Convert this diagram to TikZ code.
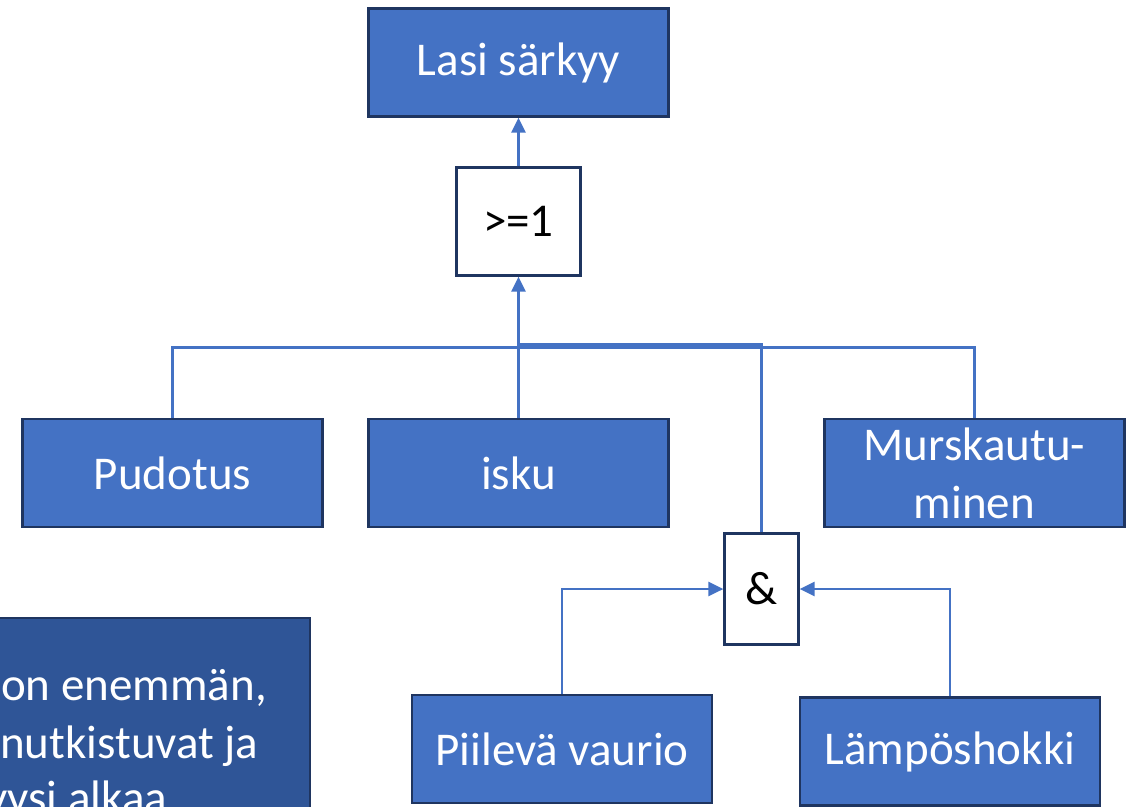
\documentclass[tikz,border=0pt]{standalone}
\usepackage{fontspec}
\setmainfont{Carlito}
\usetikzlibrary{arrows.meta}
\definecolor{boxblue}{HTML}{4472C4}
\definecolor{boxedge}{HTML}{1F3560}
\definecolor{notefill}{HTML}{2F5597}
\definecolor{wire}{HTML}{4472C4}
\begin{document}
\begin{tikzpicture}[x=1pt,y=-1pt,
  txt/.style={font=\fontsize{47}{58}\selectfont},
  event/.style={txt,draw=boxedge,line width=2.2pt,fill=boxblue,text=white,
    minimum width=300pt,minimum height=108pt,inner sep=0pt,align=center},
  gate/.style={txt,draw=boxedge,line width=2.2pt,fill=white,text=black,
    inner sep=0pt},
  wireline/.style={draw=wire,line width=2.6pt},
  feed/.style={wireline,-{Triangle[length=15pt,width=14pt]}},
  note/.style={txt,text=white,anchor=base west,inner sep=0pt}]
\useasboundingbox (0,0) rectangle (1138,806);
\clip (0,0) rectangle (1138,806);

% events
\node[event] (top) at (518.5,62.5) {Lasi särkyy};
\node[gate,minimum width=124pt,minimum height=108pt] (or) at (518.5,221.5) {>=1};
\node[event] (pud) at (172.5,473) {\raisebox{-4pt}{Pudotus}};
\node[event] (isku) at (518.5,473) {\raisebox{-4pt}{isku}};
\node[event] (mur) at (974.5,473) {Murskautu-\\minen};
\node[gate,minimum width=74pt,minimum height=111pt] (and) at (761.5,589) {\&};
\node[event] (pii) at (562,749) {Piilevä vaurio};
\node[event] (lam) at (950,751.5) {Lämpöshokki};

% note box at the lower left
\node[draw=boxedge,line width=2.2pt,fill=notefill,minimum width=330pt,
  minimum height=220pt,inner sep=0pt,anchor=north east] (notebox) at (311,617) {};
\node[note] (tx1) at (1,700) {on enemmän,};
\node[note] (tx2) at (0,758) {nutkistuvat ja};
\node[note] (tx3) at (-14,813) {yysi alkaa};

% connectors
\coordinate (bus) at (518.5,347.5);
\coordinate (andbus) at (518.5,344.5);
\draw[feed] (or.north) -- (top.south);
\draw[wireline] (pud.north) |- (bus) -| (mur.north);
\draw[feed] (isku.north) -- (or.south);
\draw[wireline] (and.north) |- (andbus);
\draw[feed] (pii.north) |- (and.west);
\draw[feed] (lam.north) |- (and.east);
\end{tikzpicture}
\end{document}
